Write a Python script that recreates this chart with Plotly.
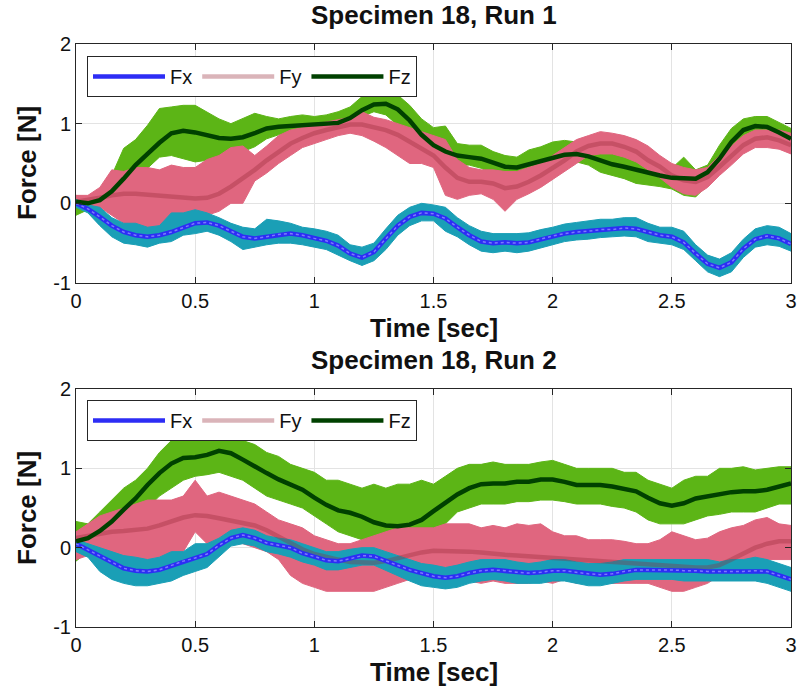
import numpy as np
import plotly.graph_objects as go

# ---- sample times (s) ----
t = np.round(np.linspace(0.0, 3.0, 61), 2).tolist()

# ---- Run 1: smoothed forces (N) ----
fx1 = [0.00, -0.07, -0.17, -0.28, -0.36, -0.40, -0.42, -0.40, -0.36, -0.30,
       -0.25, -0.24, -0.28, -0.35, -0.42, -0.44, -0.42, -0.39, -0.38, -0.40,
       -0.44, -0.47, -0.53, -0.63, -0.68, -0.61, -0.44, -0.28, -0.17, -0.12,
       -0.13,
       -0.19, -0.30, -0.40, -0.48, -0.50, -0.49, -0.50, -0.49, -0.45, -0.41,
       -0.38, -0.36, -0.35, -0.33, -0.33, -0.31, -0.32, -0.36, -0.40, -0.42,
       -0.49, -0.63, -0.76, -0.81, -0.74, -0.57, -0.45, -0.41, -0.44, -0.51]
fy1 = [0.02, 0.04, 0.07, 0.10, 0.12, 0.12, 0.11, 0.09, 0.08, 0.07,
       0.06, 0.07, 0.12, 0.21, 0.31, 0.42, 0.54, 0.65, 0.75, 0.82,
       0.88, 0.92, 0.96, 0.99, 0.99, 0.96, 0.92, 0.86, 0.77, 0.68,
       0.60,
       0.45, 0.32, 0.27, 0.27, 0.25, 0.19, 0.21, 0.27, 0.35, 0.44,
       0.54, 0.65, 0.72, 0.75, 0.75, 0.71, 0.65, 0.54, 0.46, 0.35,
       0.29, 0.27, 0.33, 0.46, 0.60, 0.73, 0.81, 0.83, 0.79, 0.73]
fz1 = [0.02, 0.00, 0.04, 0.15, 0.31, 0.48, 0.62, 0.76, 0.88, 0.91,
       0.89, 0.85, 0.82, 0.81, 0.83, 0.88, 0.94, 0.96, 0.97, 0.97,
       0.98, 0.99, 1.01, 1.07, 1.17, 1.24, 1.25, 1.18, 1.04, 0.86,
       0.73,
       0.65, 0.60, 0.58, 0.56, 0.51, 0.46, 0.45, 0.49, 0.54, 0.58,
       0.61, 0.62, 0.59, 0.54, 0.49, 0.46, 0.42, 0.39, 0.35, 0.32,
       0.31, 0.31, 0.39, 0.56, 0.77, 0.92, 0.97, 0.96, 0.89, 0.81]

# ---- Run 1: raw signal envelopes (upper / lower, N) ----
fx1_hi = [0.05, -0.02, -0.05, -0.18, -0.25, -0.25, -0.30, -0.28, -0.12, -0.12,
          -0.08, -0.12, -0.18, -0.25, -0.30, -0.32, -0.20, -0.22, -0.25, -0.30,
          -0.32, -0.35, -0.40, -0.52, -0.55, -0.50, -0.32, -0.15, -0.05, 0.00,
          -0.02,
          -0.05, -0.18, -0.28, -0.35, -0.38, -0.38, -0.38, -0.37, -0.33, -0.30,
          -0.26, -0.24, -0.22, -0.20, -0.20, -0.18, -0.18, -0.25, -0.30, -0.30,
          -0.35, -0.52, -0.65, -0.70, -0.62, -0.45, -0.32, -0.28, -0.30, -0.38]
fx1_lo = [-0.05, -0.12, -0.28, -0.42, -0.50, -0.52, -0.55, -0.50, -0.48, -0.40,
          -0.38, -0.35, -0.40, -0.48, -0.58, -0.55, -0.52, -0.50, -0.50, -0.52,
          -0.55, -0.58, -0.65, -0.72, -0.78, -0.72, -0.58, -0.40, -0.28, -0.22,
          -0.22,
          -0.35, -0.42, -0.52, -0.60, -0.62, -0.60, -0.62, -0.60, -0.56, -0.52,
          -0.48, -0.46, -0.45, -0.43, -0.42, -0.41, -0.42, -0.48, -0.50, -0.52,
          -0.58, -0.72, -0.86, -0.92, -0.86, -0.68, -0.55, -0.52, -0.54, -0.60]
fy1_hi = [0.10, 0.10, 0.20, 0.42, 0.40, 0.45, 0.45, 0.42, 0.48, 0.45,
          0.45, 0.55, 0.60, 0.70, 0.72, 0.60, 0.72, 0.85, 0.92, 0.95,
          1.00, 1.02, 1.05, 1.08, 1.15, 1.08, 1.05, 1.00, 0.95, 0.90,
          0.85,
          0.80, 0.55, 0.45, 0.42, 0.42, 0.40, 0.40, 0.45, 0.50, 0.60,
          0.70, 0.80, 0.85, 0.90, 0.88, 0.85, 0.80, 0.72, 0.60, 0.50,
          0.45, 0.42, 0.45, 0.60, 0.72, 0.85, 0.92, 0.92, 0.92, 0.88]
fy1_lo = [-0.05, -0.02, -0.05, -0.15, -0.25, -0.35, -0.35, -0.45, -0.35, -0.20,
          -0.25, -0.15, -0.10, 0.00, 0.00, 0.28, 0.38, 0.50, 0.60, 0.70,
          0.75, 0.80, 0.85, 0.88, 0.85, 0.78, 0.70, 0.60, 0.50, 0.50,
          0.45,
          0.10, 0.05, 0.10, 0.12, 0.05, -0.10, 0.05, 0.12, 0.20, 0.30,
          0.40, 0.50, 0.60, 0.62, 0.62, 0.58, 0.52, 0.42, 0.32, 0.20,
          0.12, 0.10, 0.20, 0.35, 0.48, 0.62, 0.70, 0.70, 0.68, 0.62]
fz1_hi = [0.10, 0.08, 0.15, 0.35, 0.69, 0.80, 0.98, 1.19, 1.21, 1.23,
          1.23, 1.15, 1.06, 1.00, 1.06, 1.13, 1.09, 1.06, 1.09, 1.11,
          1.09, 1.11, 1.15, 1.21, 1.34, 1.48, 1.44, 1.36, 1.23, 1.06,
          0.95,
          0.97, 0.75, 0.73, 0.73, 0.65, 0.60, 0.58, 0.67, 0.71, 0.77,
          0.79, 0.77, 0.71, 0.67, 0.62, 0.58, 0.54, 0.50, 0.46, 0.44,
          0.58, 0.42, 0.48, 0.73, 0.94, 1.06, 1.09, 1.09, 1.02, 0.94]
fz1_lo = [-0.15, -0.08, -0.05, 0.00, 0.14, 0.25, 0.44, 0.58, 0.60, 0.56,
          0.52, 0.54, 0.50, 0.58, 0.65, 0.71, 0.81, 0.86, 0.88, 0.90,
          0.90, 0.92, 0.94, 1.00, 1.09, 1.15, 1.11, 0.98, 0.73, 0.58,
          0.58,
          0.56, 0.48, 0.48, 0.44, 0.37, 0.27, 0.31, 0.35, 0.42, 0.48,
          0.50, 0.52, 0.48, 0.39, 0.35, 0.31, 0.25, 0.23, 0.21, 0.18,
          0.10, 0.08, 0.23, 0.44, 0.65, 0.81, 0.88, 0.88, 0.81, 0.73]

# ---- Run 2: smoothed forces (N) ----
fx2 = [0.05, -0.03, -0.11, -0.19, -0.26, -0.29, -0.30, -0.28, -0.23, -0.17,
       -0.13, -0.08, 0.03, 0.12, 0.16, 0.12, 0.06, 0.03, 0.00, -0.07,
       -0.11, -0.16, -0.17, -0.14, -0.10, -0.11, -0.17, -0.23, -0.28, -0.32,
       -0.36,
       -0.38, -0.36, -0.32, -0.29, -0.28, -0.29, -0.31, -0.32, -0.31, -0.29,
       -0.29, -0.31, -0.33, -0.34, -0.33, -0.30, -0.28, -0.28, -0.28, -0.28,
       -0.29, -0.29, -0.30, -0.30, -0.30, -0.30, -0.29, -0.30, -0.35, -0.40]
fy2 = [0.12, 0.15, 0.18, 0.20, 0.21, 0.22, 0.24, 0.28, 0.33, 0.38,
       0.41, 0.40, 0.37, 0.34, 0.32, 0.28, 0.22, 0.14, 0.06, -0.02,
       -0.08, -0.12, -0.15, -0.18, -0.19, -0.19, -0.17, -0.13, -0.10, -0.06,
       -0.04,
       -0.04, -0.04, -0.05, -0.06, -0.08, -0.09, -0.10, -0.11, -0.13, -0.14,
       -0.15, -0.16, -0.17, -0.18, -0.19, -0.20, -0.21, -0.22, -0.23, -0.24,
       -0.25, -0.25, -0.25, -0.22, -0.15, -0.08, 0.00, 0.05, 0.08, 0.08]
fz2 = [0.08, 0.12, 0.21, 0.33, 0.48, 0.62, 0.79, 0.94, 1.06, 1.13,
       1.14, 1.17, 1.22, 1.19, 1.11, 1.02, 0.94, 0.86, 0.79, 0.73,
       0.63, 0.54, 0.47, 0.44, 0.39, 0.32, 0.28, 0.27, 0.29, 0.35,
       0.46,
       0.56, 0.67, 0.75, 0.80, 0.81, 0.81, 0.83, 0.83, 0.86, 0.86,
       0.83, 0.79, 0.79, 0.79, 0.77, 0.74, 0.71, 0.63, 0.56, 0.53,
       0.56, 0.62, 0.65, 0.68, 0.70, 0.71, 0.71, 0.73, 0.77, 0.81]

# ---- Run 2: raw signal envelopes (upper / lower, N) ----
fx2_hi = [0.10, 0.05, 0.00, -0.05, -0.10, -0.12, -0.15, -0.12, -0.05, -0.05,
          0.05, 0.05, 0.12, 0.22, 0.25, 0.22, 0.15, 0.12, 0.10, 0.05,
          0.00, -0.05, -0.05, -0.02, 0.00, 0.00, -0.05, -0.10, -0.15, -0.20,
          -0.22,
          -0.25, -0.22, -0.18, -0.15, -0.15, -0.15, -0.18, -0.20, -0.18, -0.15,
          -0.15, -0.18, -0.20, -0.20, -0.18, -0.15, -0.15, -0.15, -0.15, -0.15,
          -0.15, -0.15, -0.15, -0.18, -0.15, -0.15, -0.12, -0.15, -0.20, -0.25]
fx2_lo = [-0.05, -0.12, -0.30, -0.40, -0.45, -0.48, -0.48, -0.45, -0.42, -0.35,
          -0.30, -0.25, -0.12, 0.02, 0.05, 0.02, -0.05, -0.08, -0.12, -0.18,
          -0.22, -0.28, -0.28, -0.25, -0.22, -0.22, -0.28, -0.35, -0.42, -0.48,
          -0.50,
          -0.52, -0.50, -0.45, -0.42, -0.40, -0.42, -0.45, -0.45, -0.45, -0.42,
          -0.42, -0.45, -0.48, -0.48, -0.45, -0.42, -0.40, -0.40, -0.40, -0.40,
          -0.42, -0.42, -0.42, -0.42, -0.42, -0.42, -0.42, -0.45, -0.50, -0.55]
fy2_hi = [0.20, 0.30, 0.40, 0.45, 0.50, 0.55, 0.60, 0.60, 0.60, 0.65,
          0.85, 0.65, 0.70, 0.65, 0.60, 0.55, 0.45, 0.35, 0.30, 0.25,
          0.15, 0.10, 0.05, 0.05, 0.10, 0.15, 0.20, 0.25, 0.25, 0.25,
          0.25,
          0.30, 0.30, 0.30, 0.25, 0.28, 0.25, 0.30, 0.28, 0.30, 0.20,
          0.15, 0.15, 0.10, 0.10, 0.10, 0.08, 0.05, 0.05, 0.10, 0.20,
          0.15, 0.10, 0.12, 0.20, 0.25, 0.28, 0.35, 0.38, 0.30, 0.28]
fy2_lo = [-0.15, -0.10, -0.12, -0.15, -0.15, -0.15, -0.15, -0.12, -0.10, -0.05,
          0.20, 0.05, 0.10, 0.10, 0.05, 0.00, -0.05, -0.15, -0.35, -0.45,
          -0.50, -0.55, -0.55, -0.55, -0.55, -0.55, -0.50, -0.45, -0.40, -0.38,
          -0.40,
          -0.40, -0.42, -0.42, -0.45, -0.42, -0.45, -0.45, -0.45, -0.42, -0.45,
          -0.40, -0.45, -0.40, -0.42, -0.45, -0.45, -0.45, -0.45, -0.50, -0.55,
          -0.55, -0.50, -0.45, -0.35, -0.30, -0.20, -0.15, -0.15, -0.15, -0.15]
fz2_hi = [0.33, 0.30, 0.45, 0.60, 0.75, 0.85, 1.00, 1.20, 1.35, 1.40,
          1.45, 1.35, 1.45, 1.40, 1.35, 1.30, 1.20, 1.15, 1.05, 1.00,
          0.95, 0.85, 0.85, 0.80, 0.75, 0.80, 0.75, 0.80, 0.80, 0.85,
          0.80,
          0.90, 1.00, 1.05, 1.05, 1.08, 1.05, 1.05, 1.05, 1.08, 1.10,
          1.05, 1.00, 1.00, 1.00, 1.00, 0.95, 0.95, 0.85, 0.80, 0.75,
          0.85, 0.90, 0.90, 1.00, 1.00, 1.02, 0.98, 1.00, 1.02, 1.02]
fz2_lo = [-0.17, -0.05, 0.00, 0.10, 0.25, 0.35, 0.50, 0.65, 0.75, 0.85,
          0.90, 0.92, 0.95, 0.90, 0.85, 0.75, 0.65, 0.60, 0.55, 0.50,
          0.40, 0.30, 0.20, 0.15, 0.10, 0.05, 0.00, 0.00, 0.00, 0.00,
          0.15,
          0.30, 0.45, 0.50, 0.55, 0.55, 0.55, 0.58, 0.58, 0.60, 0.60,
          0.58, 0.55, 0.55, 0.55, 0.52, 0.50, 0.45, 0.35, 0.30, 0.30,
          0.30, 0.35, 0.40, 0.42, 0.45, 0.45, 0.45, 0.50, 0.55, 0.55]

titles = ["Specimen 18, Run 1", "Specimen 18, Run 2"]
x_ticks = [0, 0.5, 1, 1.5, 2, 2.5, 3]
x_tick_text = ["0", "0.5", "1", "1.5", "2", "2.5", "3"]
y_ticks = [-1, 0, 1, 2]
y_tick_text = ["-1", "0", "1", "2"]

RAW_X, RAW_Y, RAW_Z = "#1a9fb6", "#e0667f", "#5cb516"
LINE_X, LINE_Y, LINE_Z = "#2d2df5", "rgba(150,40,55,0.35)", "#004100"
BEAD_X = "rgba(150,150,255,0.75)"
FONT = "Liberation Sans, Arial, sans-serif"

W, H = 801, 693
px_x = lambda p: p / W
px_y = lambda p: 1 - p / H

fig = go.Figure()

runs = [
    dict(ax="", leg="legend",
         raw=[(fz1_hi, fz1_lo, RAW_Z), (fy1_hi, fy1_lo, RAW_Y), (fx1_hi, fx1_lo, RAW_X)],
         fx=fx1, fy=fy1, fz=fz1),
    dict(ax="2", leg="legend2",
         raw=[(fz2_hi, fz2_lo, RAW_Z), (fy2_hi, fy2_lo, RAW_Y), (fx2_hi, fx2_lo, RAW_X)],
         fx=fx2, fy=fy2, fz=fz2),
]

for r in runs:
    xa, ya = "x" + r["ax"], "y" + r["ax"]
    # legend entries, listed in Fx, Fy, Fz order
    for name, col in [("Fx", LINE_X), ("Fy", LINE_Y), ("Fz", LINE_Z)]:
        fig.add_trace(go.Scatter(x=[None], y=[None], xaxis=xa, yaxis=ya, mode="lines",
                                 name=name, legend=r["leg"],
                                 line=dict(color=col, width=4.5)))
    # raw signal spread drawn as filled bands
    for hi, lo, col in r["raw"]:
        fig.add_trace(go.Scatter(
            x=t + t[::-1], y=hi + lo[::-1], xaxis=xa, yaxis=ya,
            fill="toself", fillcolor=col, mode="lines",
            line=dict(color=col, width=1), showlegend=False, hoverinfo="skip"))
    # smoothed force lines
    for key, col in [("fy", LINE_Y), ("fx", LINE_X), ("fz", LINE_Z)]:
        fig.add_trace(go.Scatter(x=t, y=r[key], xaxis=xa, yaxis=ya, mode="lines",
                                 showlegend=False, line=dict(color=col, width=4.5)))
        if key == "fx":
            # beaded look of the Fx line
            fig.add_trace(go.Scatter(x=t, y=r[key], xaxis=xa, yaxis=ya, mode="lines",
                                     showlegend=False, hoverinfo="skip",
                                     line=dict(color=BEAD_X, width=1.5, dash="dot")))

axis_common = dict(showline=True, linecolor="#262626", linewidth=1, mirror="ticks",
                   ticks="inside", ticklen=6, tickcolor="#262626", automargin=False,
                   showgrid=True, gridcolor="#e3e3e3", gridwidth=1, zeroline=False,
                   tickfont=dict(family=FONT, size=20, color="#111"))

xdom = [px_x(76), px_x(791)]
ydoms = [[px_y(283), px_y(44)], [px_y(627), px_y(389)]]

legend_common = dict(orientation="h", xanchor="left", yanchor="top", x=px_x(87),
                     bgcolor="white", bordercolor="#262626", borderwidth=1,
                     font=dict(family=FONT, size=20, color="#111"),
                     itemwidth=72, traceorder="normal", tracegroupgap=0)

fig.update_layout(
    width=W, height=H, margin=dict(l=0, r=0, t=0, b=0, pad=0, autoexpand=False),
    paper_bgcolor="white", plot_bgcolor="white",
    xaxis=dict(domain=xdom, anchor="y", range=[0, 3], tickvals=x_ticks, ticktext=x_tick_text, **axis_common),
    yaxis=dict(domain=ydoms[0], anchor="x", range=[-1, 2], tickvals=y_ticks, ticktext=y_tick_text, **axis_common),
    xaxis2=dict(domain=xdom, anchor="y2", range=[0, 3], tickvals=x_ticks, ticktext=x_tick_text, **axis_common),
    yaxis2=dict(domain=ydoms[1], anchor="x2", range=[-1, 2], tickvals=y_ticks, ticktext=y_tick_text, **axis_common),
    legend=dict(y=px_y(56), **legend_common),
    legend2=dict(y=px_y(400), **legend_common),
)

xc = (px_x(76) + px_x(791)) / 2
bold = dict(family=FONT, size=26, color="#111")
for title, ty, xly, fy_mid in [(titles[0], 15, 328, 163), (titles[1], 360, 672, 508)]:
    fig.add_annotation(text=f"<b>{title}</b>", xref="paper", yref="paper", x=xc, y=px_y(ty),
                       xanchor="center", yanchor="middle", showarrow=False, font=bold)
    fig.add_annotation(text="<b>Time [sec]</b>", xref="paper", yref="paper", x=xc, y=px_y(xly),
                       xanchor="center", yanchor="middle", showarrow=False, font=bold)
    fig.add_annotation(text="<b>Force [N]</b>", xref="paper", yref="paper", x=px_x(27), y=px_y(fy_mid),
                       xanchor="center", yanchor="middle", textangle=-90, showarrow=False, font=bold)

fig.write_html("out.html")
